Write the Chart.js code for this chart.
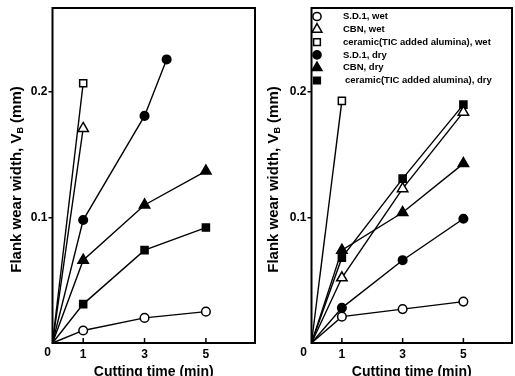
<!DOCTYPE html>
<html>
<head>
<meta charset="utf-8">
<script src="https://cdn.jsdelivr.net/npm/chart.js@4.4.0/dist/chart.umd.min.js"></script>
<style>
  html, body { margin: 0; padding: 0; background: #fff; }
  #wrap { position: relative; width: 515px; height: 376px; overflow: hidden; }
  canvas { position: absolute; top: 0; }
  #leftChart { left: 0; }
  #rightChart { left: 258px; }
</style>
</head>
<body>
<div id="wrap">
  <canvas id="leftChart" width="258" height="376"></canvas>
  <canvas id="rightChart" width="257" height="376"></canvas>
</div>
<script>
// Series names (legend)
const seriesNames = [
  "S.D.1, wet",
  "CBN, wet",
  "ceramic(TIC added alumina), wet",
  "S.D.1, dry",
  "CBN, dry",
  "ceramic(TIC added alumina), dry",
]

// Cutting times (min)
const timeFull = [0, 1, 3, 5]
const timeShort = [0, 1]
const timeSd1DryLeft = [0, 1, 3, 3.72]

// Left panel: flank wear width VB (mm)
const leftSd1Wet = [0, 0.010, 0.020, 0.025]
const leftCbnWet = [0, 0.171]
const leftCeramicWet = [0, 0.207]
const leftSd1Dry = [0, 0.098, 0.181, 0.226]
const leftCbnDry = [0, 0.066, 0.110, 0.137]
const leftCeramicDry = [0, 0.031, 0.074, 0.092]

// Right panel: flank wear width VB (mm)
const rightSd1Wet = [0, 0.021, 0.027, 0.033]
const rightCbnWet = [0, 0.052, 0.123, 0.184]
const rightCeramicWet = [0, 0.193]
const rightSd1Dry = [0, 0.028, 0.066, 0.099]
const rightCbnDry = [0, 0.074, 0.104, 0.143]
const rightCeramicDry = [0, 0.068, 0.131, 0.190]

// Axis ticks
const xTicks = [1, 3, 5]
const yTicks = [0.1, 0.2]

const FONT = "'Liberation Sans', Arial, sans-serif"
const styles = [
  { pointStyle: "circle", radius: 4.3, filled: false },
  { pointStyle: "triangle", radius: 6, filled: false },
  { pointStyle: "rect", radius: 5, filled: false },
  { pointStyle: "circle", radius: 4.3, filled: true },
  { pointStyle: "triangle", radius: 6, filled: true },
  { pointStyle: "rect", radius: 5, filled: true },
]

function toPoints(xs, ys) {
  return ys.map((y, i) => ({ x: xs[i], y: y }))
}

function makeDatasets(list) {
  return list.map((pts, i) => {
    const s = styles[i]
    return {
      label: seriesNames[i],
      data: pts,
      borderColor: "#000",
      borderWidth: 1.4,
      pointStyle: s.pointStyle,
      pointRadius: (ctx) => (ctx.raw && ctx.raw.x === 0 ? 0 : s.radius),
      pointBackgroundColor: s.filled ? "#000" : "#fff",
      pointBorderColor: "#000",
      pointBorderWidth: 1.5,
      tension: 0,
      clip: false,
    }
  })
}

// frame, inner x ticks, origin "0", y title with subscript, optional legend
const framePlugin = {
  id: "frame",
  afterDatasetsDraw(chart, args, opts) {
    const { ctx, chartArea: a } = chart
    const xs = chart.scales.x
    ctx.save()
    ctx.strokeStyle = "#000"
    ctx.lineWidth = 2
    ctx.strokeRect(a.left, a.top, a.right - a.left, a.bottom - a.top)
    ctx.lineWidth = 1.5
    xTicks.forEach((t) => {
      const px = xs.getPixelForValue(t)
      ctx.beginPath()
      ctx.moveTo(px, a.bottom)
      ctx.lineTo(px, a.bottom - 5)
      ctx.stroke()
    })
    ctx.fillStyle = "#000"
    ctx.font = "bold 12px " + FONT
    ctx.textAlign = "center"
    ctx.textBaseline = "middle"
    ctx.fillText("0", a.left + opts.zeroDx, 353)

    // y title
    ctx.translate(opts.titleX, (a.top + a.bottom) / 2 + 4)
    ctx.rotate(-Math.PI / 2)
    const big = "bold 15px " + FONT
    const small = "bold 9px " + FONT
    const p1 = "Flank wear width, V"
    const p2 = "B"
    const p3 = " (mm)"
    ctx.font = big
    const w1 = ctx.measureText(p1).width
    const w3 = ctx.measureText(p3).width
    ctx.font = small
    const w2 = ctx.measureText(p2).width
    let x0 = -(w1 + w2 + w3) / 2
    ctx.textAlign = "left"
    ctx.textBaseline = "alphabetic"
    ctx.font = big
    ctx.fillText(p1, x0, 5)
    ctx.font = small
    ctx.fillText(p2, x0 + w1, 7)
    ctx.font = big
    ctx.fillText(p3, x0 + w1 + w2, 5)
    ctx.restore()

    if (opts.legend) {
      ctx.save()
      ctx.font = "bold 9.5px " + FONT
      ctx.textAlign = "left"
      ctx.textBaseline = "middle"
      chart.data.datasets.forEach((ds, i) => {
        const y = 16.5 + i * 12.8
        const s = styles[i]
        ctx.fillStyle = s.filled ? "#000" : "#fff"
        ctx.strokeStyle = "#000"
        ctx.lineWidth = 1.5
        Chart.helpers.drawPoint(ctx, { pointStyle: s.pointStyle, radius: s.radius * 0.95, rotation: 0, borderWidth: 1.5 }, 59, y)
        ctx.fillStyle = "#000"
        ctx.fillText(ds.label, i === 5 ? 87 : 85, y)
      })
      ctx.restore()
    }
  },
}

function makeChart(id, datasets, opts) {
  return new Chart(document.getElementById(id), {
    type: "line",
    data: { datasets: datasets },
    options: {
      responsive: false,
      animation: false,
      layout: { autoPadding: false, padding: { left: 0, top: 8, right: 3, bottom: 0 } },
      plugins: {
        legend: { display: false },
        tooltip: { enabled: false },
        frame: opts,
      },
      scales: {
        x: {
          type: "linear",
          min: 0,
          max: 6.6,
          afterFit: (s) => { s.height = 33; s.paddingLeft = 0; s.paddingRight = 0 },
          afterBuildTicks: (s) => { s.ticks = xTicks.map((v) => ({ value: v })) },
          grid: { display: false, drawTicks: false },
          border: { display: false },
          ticks: {
            padding: 4,
            color: "#000",
            font: { family: FONT, size: 12, weight: "bold" },
            maxRotation: 0,
            callback: (v) => String(v),
          },
          title: {
            display: true,
            text: "Cutting time (min)",
            color: "#000",
            font: { family: FONT, size: 14, weight: "bold" },
            padding: { top: 0, bottom: -5 },
          },
        },
        y: {
          type: "linear",
          min: 0,
          max: 0.267,
          afterFit: (s) => { s.width = opts.yWidth; s.paddingTop = 0; s.paddingBottom = 0 },
          afterBuildTicks: (s) => { s.ticks = yTicks.map((v) => ({ value: v })) },
          grid: { drawOnChartArea: false, drawTicks: true, tickLength: 4, color: "#000", lineWidth: 1.5 },
          border: { display: false },
          ticks: {
            padding: 1,
            color: "#000",
            font: { family: FONT, size: 12, weight: "bold" },
            callback: (v) => v.toFixed(1),
          },
        },
      },
    },
    plugins: [framePlugin],
  })
}

makeChart("leftChart", makeDatasets([
  toPoints(timeFull, leftSd1Wet),
  toPoints(timeShort, leftCbnWet),
  toPoints(timeShort, leftCeramicWet),
  toPoints(timeSd1DryLeft, leftSd1Dry),
  toPoints(timeFull, leftCbnDry),
  toPoints(timeFull, leftCeramicDry),
]), { yWidth: 52.5, zeroDx: -5, titleX: 16, legend: false })

makeChart("rightChart", makeDatasets([
  toPoints(timeFull, rightSd1Wet),
  toPoints(timeFull, rightCbnWet),
  toPoints(timeShort, rightCeramicWet),
  toPoints(timeFull, rightSd1Dry),
  toPoints(timeFull, rightCbnDry),
  toPoints(timeFull, rightCeramicDry),
]), { yWidth: 53.5, zeroDx: -8, titleX: 15, legend: true })
</script>
</body>
</html>
